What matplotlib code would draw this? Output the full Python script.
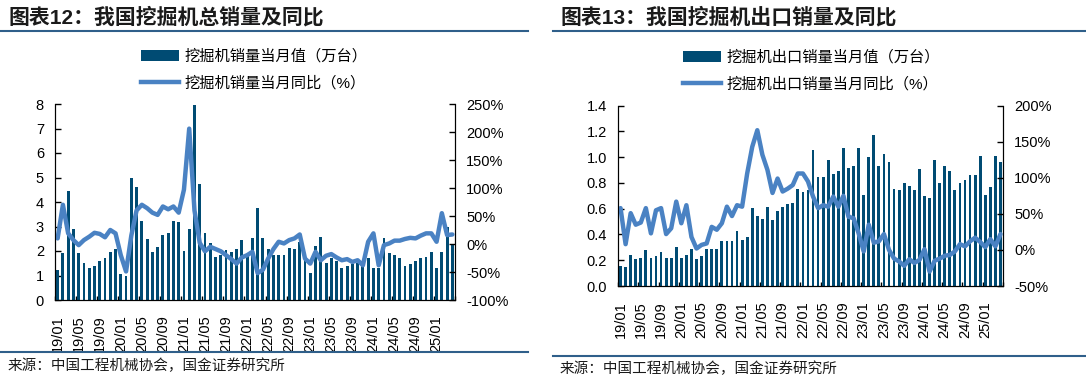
import numpy as np
import pandas as pd
import matplotlib
matplotlib.use("Agg")
import matplotlib.pyplot as plt
from matplotlib.lines import Line2D

plt.rcParams['font.family'] = ['Liberation Sans', 'Noto Sans CJK SC', 'DejaVu Sans']

months = pd.period_range('2019-01', '2025-04', freq='M')
month_labels = [f"{p.year % 100:02d}/{p.month:02d}" for p in months]

# 挖掘机总销量（万台）
total_sales = [1.22, 1.90, 4.46, 2.88, 1.90, 1.52, 1.29, 1.40, 1.59, 1.70, 1.96, 2.07,
               1.05, 0.98, 5.00, 4.60, 3.24, 2.50, 1.96, 2.15, 2.64, 2.75, 3.24, 3.18,
               2.01, 2.88, 7.96, 4.72, 2.75, 2.31, 1.77, 1.84, 2.03, 1.97, 2.08, 2.45,
               1.85, 2.52, 3.74, 2.52, 2.08, 1.84, 1.84, 1.84, 2.14, 2.08, 2.38, 1.81,
               1.09, 2.20, 2.57, 1.50, 1.70, 1.60, 1.30, 1.37, 1.46, 1.50, 1.37, 1.70,
               1.30, 1.30, 2.53, 1.90, 1.84, 1.70, 1.40, 1.46, 1.60, 1.70, 1.76, 1.95,
               1.30, 1.95, 2.99, 2.29]
# 总销量同比（%）
total_yoy = [10, 70, 19, 7, -2, 7, 13, 20, 18, 12, 25, 19,
             -20, -49, 15, 60, 70, 64, 56, 52, 67, 62, 67, 56,
             97, 206, 60, 2, -13, -5, -9, -13, -20, -27, -35, -24,
             -20, -14, -52, -46, -26, -9, 4, 1, 7, 10, 17, -26,
             -35, -14, -29, -21, -18, -24, -29, -27, -32, -29, -38, 4,
             19, -38, -2, 1, 6, 6, 9, 11, 10, 15, 19, 19,
             4, 55, 16, 17]

# 出口销量（万台）
export_sales = [0.158, 0.145, 0.24, 0.207, 0.217, 0.277, 0.22, 0.233, 0.264, 0.22, 0.22, 0.30,
                0.22, 0.24, 0.287, 0.207, 0.233, 0.287, 0.287, 0.287, 0.35, 0.35, 0.35, 0.427,
                0.357, 0.383, 0.603, 0.543, 0.52, 0.616, 0.512, 0.58, 0.616, 0.637, 0.647, 0.75,
                0.73, 0.745, 1.056, 0.843, 0.843, 0.976, 0.87, 0.893, 1.069, 0.916, 0.93, 1.069,
                0.707, 1.0, 1.172, 0.93, 1.022, 0.965, 0.753, 0.745, 0.80, 0.776, 0.745, 0.906,
                0.696, 0.683, 0.976, 0.80, 0.93, 0.893, 0.745, 0.80, 0.823, 0.86, 0.86, 1.01,
                0.707, 0.766, 1.01, 0.965]
# 出口同比（%）
export_yoy = [58, 8, 51, 35, 38, 58, 23, 55, 58, 22, 30, 67,
              37, 62, 18, 2, 7, 9, 32, 28, 37, 60, 47, 62,
              60, 106, 143, 166, 132, 111, 79, 99, 81, 85, 90, 106,
              106, 95, 74, 58, 62, 60, 74, 60, 75, 46, 44, 23,
              -2, 35, 10, 12, 22, 0, -12, -16, -22, -13, -18, -14,
              1, -30, -15, -12, -8, -7, -2, 8, 5, 12, 17, 11,
              4, 15, 5, 22]

bar_color = '#004B73'
line_color = '#4A82C3'
W, H = 1086, 379

fig = plt.figure(figsize=(W / 100, H / 100), dpi=100)


def fx(px):
    return px / W


def fy(py):
    return 1 - py / H


def panel(rect, bars, yoy, ylim, yticks, yfmt, y2lim, y2ticks, bar_label, line_label, legend_xy):
    ax = fig.add_axes(rect)
    x = np.arange(len(bars))
    b = ax.bar(x, bars, width=0.55, color=bar_color, zorder=2)
    ax.set_xlim(-0.5, len(bars) - 0.5)
    ax.set_ylim(*ylim)
    ax.set_yticks(yticks)
    ax.set_yticklabels([yfmt.format(v) for v in yticks])
    ax.set_xticks(x[::4])
    ax.set_xticklabels(month_labels[::4], rotation=90)
    ax.set_xticks(np.arange(-0.5, len(bars), 4), minor=True)
    ax.tick_params(axis='x', which='major', length=0, pad=11, labelsize=10.5)
    ax.tick_params(axis='x', which='minor', direction='in', length=3, width=1)
    ax.tick_params(axis='y', direction='in', length=4, width=1, labelsize=10.5, pad=8)
    ax.spines['top'].set_visible(False)

    ax2 = ax.twinx()
    ln, = ax2.plot(x, yoy, color=line_color, lw=3.2, solid_joinstyle='round',
                   solid_capstyle='round')
    ax2.set_ylim(*y2lim)
    ax2.set_yticks(y2ticks)
    ax2.set_yticklabels([f"{v}%" for v in y2ticks])
    ax2.tick_params(axis='y', direction='in', length=4, width=1, labelsize=10.5, pad=8)
    ax2.spines['top'].set_visible(False)

    leg_line = Line2D([0], [0], color=line_color, lw=3.2)
    fig.legend([b, leg_line], [bar_label, line_label], loc='upper left',
               bbox_to_anchor=legend_xy, frameon=False, fontsize=11,
               handlelength=2.5, handletextpad=0.35, labelspacing=0.8, borderpad=0,
               borderaxespad=0)
    return ax, ax2


panel([fx(55), fy(300), fx(400), 196 / H], total_sales, total_yoy,
      (0, 8), list(range(0, 9)), "{:d}", (-100, 250), list(range(-100, 251, 50)),
      "挖掘机销量当月值（万台）", "挖掘机销量当月同比（%）", (fx(141), fy(49)))

panel([fx(618), fy(286), fx(385), 180.3 / H], export_sales, export_yoy,
      (0, 1.4), [round(v * 0.2, 1) for v in range(8)], "{:.1f}", (-50, 200),
      list(range(-50, 201, 50)),
      "挖掘机出口销量当月值（万台）", "挖掘机出口销量当月同比（%）", (fx(683), fy(50)))

# titles, rules and sources
rule_color = '#2F5F8A'
fig.text(fx(8), fy(17), "图表12：我国挖掘机总销量及同比", fontsize=15, fontweight='bold',
         va='center', ha='left', color='#1a1a1a')
fig.text(fx(560), fy(17), "图表13：我国挖掘机出口销量及同比", fontsize=15, fontweight='bold',
         va='center', ha='left', color='#1a1a1a')
for x0, x1, ytop, ybot in [(0, 528, 31, 352), (553, 1086, 31, 356)]:
    fig.add_artist(Line2D([fx(x0), fx(x1)], [fy(ytop), fy(ytop)], color=rule_color, lw=1.5))
    fig.add_artist(Line2D([fx(x0), fx(x1)], [fy(ybot), fy(ybot)], color=rule_color, lw=1.5))
fig.text(fx(8), fy(366), "来源：中国工程机械协会，国金证券研究所", fontsize=10.5,
         va='center', ha='left', color='#1a1a1a')
fig.text(fx(560), fy(369), "来源：中国工程机械协会，国金证券研究所", fontsize=10.5,
         va='center', ha='left', color='#1a1a1a')

fig.savefig("out.png", dpi=100)
